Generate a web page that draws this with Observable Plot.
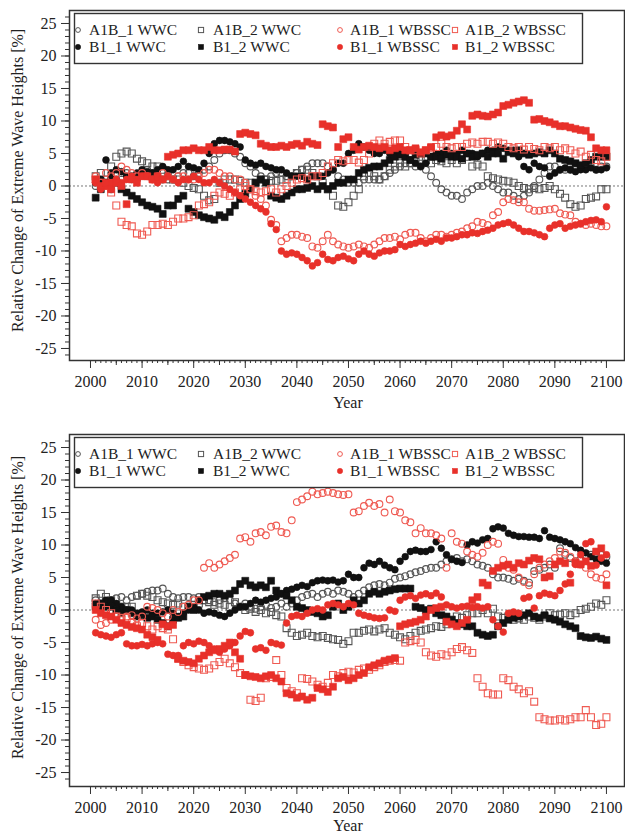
<!DOCTYPE html>
<html><head><meta charset="utf-8">
<script src="https://cdn.jsdelivr.net/npm/d3@7"></script>
<script src="https://cdn.jsdelivr.net/npm/@observablehq/plot@0.6"></script>
<style>
body{margin:0;background:#fff;font-family:"Liberation Serif",serif;}
#chart{width:625px;}
svg{display:block;}
</style></head><body><div id="chart"></div>
<script>
const years = d3.range(2001, 2101);
const xTicks = d3.range(2000, 2101, 10);
const yTicks = d3.range(-25, 26, 5);
const seriesNames = ["A1B_1 WWC","A1B_2 WWC","A1B_1 WBSSC","A1B_2 WBSSC","B1_1 WWC","B1_2 WWC","B1_1 WBSSC","B1_2 WBSSC"];
const yLabel = "Relative Change of Extreme Wave Heights [%]";
const xLabel = "Year";

// ---- top panel (2001..2100) ----
const topA1WWC = [0,1,0.5,-0.5,1,2,2,1.5,1,2, 2.5,2,1.5,1,1,1,1.5,2,2,1.5, 2,2.5,3,4,5,5.5,5.5,5,4.5,3.5, 3,2,1.5,1,1.5,2,2,1.5,1.5,2, 2.5,3,3.5,3.5,3.5,3,2.5,1.5,1,0.5, 0.5,0.5,1,1,1,1,1.5,2,2.5,3, 3.5,3.5,3,3,2.5,1.5,0.5,-0.5,-1,-1.5, -1.5,-2,-1,-0.5,0,0,0.5,0,-0.5,-1, -1,-1.5,-2,-1.5,-1,0,1,2,3,3, 2.5,2.5,2.5,2.5,3,3,3,2.5,3,3];
const topA2WWC = [1.5,2,1,3,4.5,5,5.3,5,4.2,3.8, 3.5,3,3,2.5,1.5,1,1,0.5,0,-0.3, -0.5,-1.5,-2.2,-2,0.5,1,1,1,0.8,0.5, 0.5,0.5,1,1,0.8,0.8,1,1,1.5,2, 2.5,2.5,2,1.5,0.5,-0.5,-1.5,-3,-3.2,-2.5, -1.5,-0.5,1.5,2,1.5,1,1.5,2.5,3,3.5, 3,3.5,4,4.5,4,3.5,4,3.8,3.5,4, 3.5,4,4.5,3,3.3,3,1.5,1.2,1,0.8, 0.7,0.5,0,-0.3,-0.5,-0.3,-0.5,-0.3,0,-0.5, -1.2,-1.8,-2.8,-3.2,-3,-2,-1.8,-1.6,-0.5,-0.5];
const topB1WWC = [0.5,1,4,2,2.5,2.2,1.5,1,2,2.5, 2.2,2,2.5,3,2.5,2.5,3,3.8,3,2.8, 2.5,3.5,5,6.5,7,7,6.8,6.5,6,4, 3.5,3.2,3.5,3,2.8,2.5,2.5,2,1.5,1.5, 1.5,1,1.5,1.5,1.5,2,2.5,3.5,3.5,5, 5.5,6.5,6,5.5,5,5,5.5,5,5,5.5, 5,4,3.5,3,3.5,4.5,5,5,5.5,5, 5,5.5,5,5,4.5,5,5.5,5.5,6,5.8, 5.5,5.5,4.5,3,2.5,3.5,3,2.8,1.5,2, 2.5,2.8,2.5,2.2,2.5,2.5,2.8,2.5,2.5,2.8];
const topB2WWC = [-1.8,-0.5,0.5,1,0.5,-0.5,-1,-1.5,-2,-2.5, -3,-3.2,-3.5,-4.3,-3,-3,-2,-1.5,-3.5,-4, -4.5,-4.8,-5,-5.2,-4.5,-4.8,-4,-3,-2,-1.2, -0.5,0.5,1,0.5,-1.5,-1.8,-2,-1.5,-1,-0.5, -0.5,-0.3,0,-0.5,0,-0.5,0,0.5,0.5,1, 1,2,2.5,2.8,3,3,3.5,4,4.5,4.8, 4.5,4,4.8,5,5,4.5,4.5,4.2,4.8,4.5, 4.5,4.2,5,4.5,4.8,5,4.5,5,5,4.2, 5.2,5,5.5,5,4.8,5,5.2,5,5.5,5, 4.2,4,3.8,3.5,3.2,3.5,4,4.5,4.5,4.5];
const topA1WB = [1.5,0.5,2,1.5,2,3,2.5,2,1.5,2, 1.5,1,1.5,2,1.5,1,1.5,1.5,1,1, 1.5,2,2.5,2.5,2,1.5,1.5,1,1,0.5, -0.5,-1.5,-2,-3,-5.2,-6,-8.5,-8,-7.5,-7.5, -7.8,-8,-9.3,-9.5,-8.5,-7.5,-8.5,-9,-9.3,-9.5, -9.3,-9,-9.3,-9.5,-9,-8.5,-8,-8,-7.8,-8.2, -7.5,-7.2,-7.2,-8,-8.5,-8,-7.5,-7.5,-7.8,-7.5, -7.2,-7,-6.5,-6.2,-5.5,-5.7,-6,-4.5,-4,-2.5, -2,-2.2,-2.5,-2.5,-3.5,-3.8,-3.8,-3.7,-3.6,-3.5, -4.2,-4.4,-4.5,-5.5,-5.8,-6,-5.8,-6,-6.2,-6.2];
const topA2WB = [1,0.5,0,-1,-3,-5.5,-6,-6.2,-7.3,-7.5, -7,-6,-6,-5.8,-6,-5.5,-5,-5,-4.8,-4.5, -3,-2.8,-2.5,-1.5,-1,-1.2,-1.5,-1,-0.5,0, -0.5,-0.8,-1,-0.8,-0.5,-1,-0.5,0,0.5,1, 1.2,1,1.5,1.5,2,3,3.5,4,3.8,4, 4,3.6,4,5,6.5,7,6.5,6.8,7,7, 6,5.5,5.5,5,5.5,5.8,6,6.5,6,5.8, 6,6,6.5,6.7,6.5,6.8,6.8,6.5,6.7,6.5, 6,5.8,6,5.6,6,5.7,5.5,6,5.8,6, 5.5,5.8,5.5,5,5.3,4.5,4.8,4,3.8,4.5];
const topB1WB = [0.5,-0.5,0,0.5,1,0.5,1,1.5,1,1.5, 1.5,1,0.5,1,1.5,1,0.5,1,1,1.5, 1,0.5,0.5,1,0.5,0,-0.5,-1,-1.5,-2, -2.5,-3,-3.5,-4,-5.8,-6.7,-10,-10.5,-10.3,-10.5, -11,-11.5,-12.3,-11.8,-10.5,-11.3,-11.5,-11,-10.8,-11.2, -11.5,-10.5,-10,-10.5,-10.8,-10.3,-10,-10,-9.8,-9, -9.3,-9,-8.8,-8.5,-8.8,-8.5,-8.2,-8.5,-8,-8, -7.8,-7.5,-7.5,-7.2,-7.3,-7,-6.8,-6.5,-6,-5.8, -5.6,-6,-6.5,-7,-7,-7.2,-7.5,-7.8,-6.5,-6, -5.8,-6.5,-6.2,-6,-5.8,-5.5,-5.3,-5.2,-5.5,-3.2];
const topB2WB = [1,0,0.5,-0.5,0.5,0,-2.8,1,0.5,1.5, 1.5,1,1.5,1,4.5,4.8,5,5.5,5.5,5.8, 5.5,5.5,6,5.5,5.5,5.6,5.6,5.3,8,8.2, 8,7.8,6.5,6.2,6,6,6.2,6,6.3,6.5, 6.2,6.8,6.5,6.3,9.5,9.2,9,6,7.2,7.5, 6,5.6,6,6.2,6,5.8,6,5.5,5.8,6, 5.5,5.5,5.8,5.2,5.5,6,7.5,7.8,7.6,7.8, 8.5,9.5,8.7,10.8,11,10.8,10.7,11,11.3,12.3, 12.5,12.8,13,13.2,12.8,10.2,10.3,10,9.8,9.5, 9.2,9.2,9,8.8,8.6,8.5,7.5,5.8,5.5,5.5];

// ---- bottom panel (2001..2100) ----
const botA1WWC = [1.5,1,1.2,1.5,1.8,2,1.5,2,2.2,2.5, 2.8,3,3,3.3,2.5,2,1.8,2,2,1.8, 2,1.5,1.5,1.2,1.5,1.8,1.5,1,0.5,1, 0.5,0.2,0.5,0.8,0.3,0.5,1,0.5,1,1.5, 2,2.3,2.5,2,2.5,2.8,2.5,3,2.8,2.5, 2,2.5,3,3.5,3.8,4,3.8,4.2,4.8,5, 5.2,5.5,5.8,6,6.3,6.5,6.5,7,7.5,7.8, 8,7.5,7.8,7.5,7,6.8,6.5,5.5,5,5, 4.8,4.5,4.8,4.5,4.2,6,6.2,6.5,7,6.5, 9.5,8.5,8,7.5,7.8,8.2,8.5,8.8,8.5,8.2];
const botA2WWC = [1.8,2.5,2,1.5,0.8,0.5,0.5,0.5,2.2,2.5, 2.2,2,1.5,1.2,1,0.8,1,0.5,0.5,0.8, 1,1.5,1.2,0.8,1,0.8,0.5,1.2,0.5,0, 0.2,-0.3,0,-0.5,-0.3,-0.8,-1,-2.8,-3.5,-4, -3.8,-3.5,-4,-4.2,-4,-4.3,-4.5,-4.6,-5.2,-4.8, -3.5,-3.5,-3.2,-3,-3.3,-3,-2.8,-3.5,-3.8,-4.2, -4.5,-4,-3.5,-3.2,-3,-2.8,-2.5,-2.6,-2.2,-1.5, -1,-1.2,-0.8,-0.5,-0.5,0,-0.5,0.2,-1,-1.2, -1,-1.5,-1.3,-1.5,-1,-1.2,-1.5,-1,-0.5,-0.8, -0.7,-0.5,-0.8,-0.5,0,0.2,0.5,1,0.8,1.5];
const botB1WWC = [1,0.5,1.5,1.5,1,0.5,0,0,-0.5,-0.3, 0,-0.5,-0.5,-0.3,0,-0.5,-1,-0.5,0,0.5, 0,-0.5,-0.3,-0.5,-0.8,-1,-0.5,0,0.5,0.5, 1,1.5,1.2,1.5,1.8,2,2.5,3,3.2,3.5, 3.8,3.6,4.2,4.5,4.6,4.5,4.6,4.3,4.5,5.5, 5,5,6.5,7.2,7,7.5,6.9,6.5,6.2,7.5, 8.2,9,9.2,9,9,9.3,10.5,9.5,8.5,7.8, 7.5,7.3,10,10.5,10.3,10.8,11,12.5,12.8,12.6, 11.8,11.5,11.3,11.3,11.2,11.2,11,12.2,11.2,11, 10.8,10.5,10.2,9.6,9.2,8.8,8.2,7.8,7.5,7.2];
const botB2WWC = [0.5,1,0.5,0.5,0,-0.5,0,-0.5,-1,-0.8, -1.2,-1,-1.5,-2,-2.5,-1.5,-1.2,-1,0.5,0, 1.5,2,2.2,2.5,2.5,2.2,2.5,3,4,4.5, 3.8,3.5,3.8,3.5,4.5,3,2.5,2.2,1.5,0.5, 0.3,0,-0.3,-0.5,-1,-0.8,0.5,1,0,0.5, 1.5,1,1.5,2.5,2.8,2.5,2.8,3,3.2,3.3, 3.3,3.3,0.5,0.3,0,0.2,-0.5,-0.8,-1,-1.5, -2,-2.2,-2.5,-2.5,-3.5,-3.8,-4,-3.8,-2.5,-2, -1.5,-1.2,-1,-0.8,-0.5,-1,-1.2,-0.8,-1.3,-1.5, -1.8,-2.2,-2.5,-2.8,-4,-4.2,-4.3,-4.1,-4.4,-4.6];
const botA1WB = [-1.5,-2.3,-2,-1.5,-1,-1.2,-1,-0.8,-1.3,-1, 0.5,0.3,0,-0.5,-1,0,-0.3,0.5,0.8,1.5, 1.5,6.5,7.2,6.5,7,7.5,8,8.5,11,11.2, 10.5,11.8,12,11.5,12.8,13,12,11.8,13.8,16.6, 17,17.5,18.2,17.8,18,18.2,18,17.8,17.7,17.8, 15,15.2,16,16.5,16,16.3,15,17,15.2,15, 13.8,13.5,11.8,12.6,11.8,11.8,11.5,11,6.5,11.8, 10.5,10.2,9,8.5,8.2,8.8,10,10.5,10.2,7.7, 6.5,6.2,5,4.3,3.8,5.5,6.5,7,7.5,8, 9,8.8,8.2,7.5,7,6.5,5.5,5,4.8,5.5];
const botA2WB = [1,0.5,0,-0.5,-1,-1.5,-1.2,-2,-2.5,-2, -2.5,-3,-2.5,-2.8,-3,-4.5,-7.5,-8,-8.5,-8.8, -9,-9.2,-9,-8.5,-8,-7.5,-8.2,-8.8,-9.7,-10, -13.8,-14,-13.5,-10.5,-10.3,-7.7,-10,-12,-12.5,-12.8, -10.5,-10.6,-11,-11.5,-11.8,-11.2,-10,-10.2,-9.7,-9.5, -9.6,-9.2,-9,-9.2,-8.8,-8.5,-8,-7.8,-7.7,-7.8, -5,-4.8,-4.6,-5,-6.5,-7,-7.2,-6.8,-7,-6.5, -6,-5.7,-6.2,-6.6,-10.5,-11.8,-12.8,-13,-13,-10.5, -10.8,-11.8,-12.2,-12.8,-12.5,-14.1,-16.5,-16.8,-17,-17, -16.8,-17,-16.8,-16.5,-16.5,-15.4,-16.5,-17.7,-17.5,-16.5];
const botB1WB = [-3.5,-3.8,-4,-4.2,-3.8,-3.5,-5.2,-5.5,-5.5,-5.3, -5.5,-5.2,-5,-5.2,-6.8,-7,-7,-5.5,-5,-5.2, -4.8,-5,-5.5,-6,-6.5,-6,-5.5,-5,-4,-3.3, -3.5,-6,-5.8,-6.2,-5,-5.2,-5.4,-2,-1,-0.8, -1,-0.5,0,0.2,0,0.8,1,0.8,0.5,1, 0.8,-0.5,-0.8,-1,-1.2,-1.3,-1.2,0,-0.2,1.5, 2,2.2,1.8,2.3,2.5,2.2,2.6,2,0.8,0.5, 0.3,0.5,0.6,0.4,0.5,0.3,0.5,-1.5,-2.5,-3.4, -0.5,-0.3,-0.5,1.8,2,0.3,2.2,2.6,2.4,2.2, 3,4,5.5,7,8.5,10.2,10.5,6.9,8,8.5];
const botB2WB = [0,-0.5,-0.8,-1,-1.5,-2,-2.3,-2.6,-2.8,-3, -3.8,-4.2,-4.6,-2.2,-2.5,-2.3,-7.5,-7.8,-8,-8.2, -7.5,-7,-6.5,-6.2,-6,-5.5,-5,-6.5,-7.5,-10, -10.2,-10.3,-10.5,-10.2,-10,-10.5,-11,-12.8,-13,-13.5, -13.3,-13.8,-13.5,-12,-12.2,-12.6,-11.8,-10.5,-10.3,-10.8, -10.5,-10,-9.7,-8.8,-8.5,-8.2,-7.8,-7.6,-7.4,-2.5, -2.2,-2,-1.8,-1.5,-1,0,0.3,0.5,-1.8,-2.2, -2.5,-2,-1.5,1.5,2,4.2,3.8,6,6.5,6.8, 7,6.5,7.2,7,7.6,8,7.8,5,5.2,7, 7.5,7.2,4.2,7.3,7,7.5,6.8,9,9.5,3.8];

const topSeries = {"A1B_1 WWC":topA1WWC,"A1B_2 WWC":topA2WWC,"B1_1 WWC":topB1WWC,"B1_2 WWC":topB2WWC,
  "A1B_1 WBSSC":topA1WB,"A1B_2 WBSSC":topA2WB,"B1_1 WBSSC":topB1WB,"B1_2 WBSSC":topB2WB};
const botSeries = {"A1B_1 WWC":botA1WWC,"A1B_2 WWC":botA2WWC,"B1_1 WWC":botB1WWC,"B1_2 WWC":botB2WWC,
  "A1B_1 WBSSC":botA1WB,"A1B_2 WBSSC":botA2WB,"B1_1 WBSSC":botB1WB,"B1_2 WBSSC":botB2WB};

const BLACK = "#111", GREY = "#555", RED = "#e8302a", LRED = "#ef5a52";
const styleOf = {
  "A1B_1 WWC":  {symbol:"circle", open:true,  color:GREY},
  "A1B_2 WWC":  {symbol:"square", open:true,  color:GREY},
  "A1B_1 WBSSC":{symbol:"circle", open:true,  color:LRED},
  "A1B_2 WBSSC":{symbol:"square", open:true,  color:LRED},
  "B1_1 WWC":   {symbol:"circle", open:false, color:BLACK},
  "B1_2 WWC":   {symbol:"square", open:false, color:BLACK},
  "B1_1 WBSSC": {symbol:"circle", open:false, color:RED},
  "B1_2 WBSSC": {symbol:"square", open:false, color:RED}
};
const drawOrder = ["A1B_1 WWC","A1B_2 WWC","B1_1 WWC","B1_2 WWC","A1B_1 WBSSC","A1B_2 WBSSC","B1_1 WBSSC","B1_2 WBSSC"];
const FONT = "Liberation Serif";

function panel(seriesMap, height, marginBottom, yDomain, yLabelShift, xLabelOffset) {
  const rows = [];
  drawOrder.forEach(name => seriesMap[name].forEach((v, i) => rows.push({series: name, year: years[i], value: v})));
  const dotMarks = drawOrder.map(name => {
    const s = styleOf[name];
    return Plot.dot(rows.filter(d => d.series === name), {
      x: "year", y: "value", symbol: s.symbol,
      r: s.symbol === "square" ? 3.9 : 3.4,
      fill: s.open ? "none" : s.color, stroke: s.color, strokeWidth: s.open ? 1.1 : 0.6
    });
  });
  const plot = Plot.plot({
    width: 625, height, marginLeft: 69, marginRight: 1, marginTop: 10, marginBottom,
    style: {fontFamily: FONT, fontSize: "16px", color: "#222", background: "#fff"},
    x: {domain: [1995.93, 2103.5]},
    y: {domain: yDomain},
    marks: [
      Plot.ruleY([0], {stroke: "#777", strokeDasharray: "2,2", strokeWidth: 1}),
      ...dotMarks,
      Plot.frame({stroke: "#333", strokeWidth: 1.5}),
      Plot.axisX(d3.range(2000, 2101, 1), {tickSize: 3, tickFormat: () => "", label: null, stroke: "#333"}),
      Plot.axisX(d3.range(2005, 2101, 10), {tickSize: 5, tickFormat: () => "", label: null, stroke: "#333"}),
      Plot.axisX(xTicks, {tickSize: 8, tickPadding: 7, tickFormat: d => String(d), label: null, stroke: "#333", fontSize: 16}),
      Plot.axisY(d3.range(-26, 27, 1), {tickSize: 4, tickFormat: () => "", label: null, stroke: "#333"}),
      Plot.axisY(yTicks, {tickSize: 8, tickPadding: 5, tickFormat: d => String(d), label: null, stroke: "#333", fontSize: 16})
    ]
  });
  const svg = d3.select(plot);
  const xs = plot.scale("x"), ys = plot.scale("y");
  const frameBottom = height - marginBottom;
  // axis titles
  svg.append("text").attr("x", (xs.apply(2000) + xs.apply(2100)) / 2).attr("y", frameBottom + xLabelOffset)
    .attr("text-anchor", "middle").attr("font-family", FONT).attr("font-size", 16).attr("fill", "#222").text(xLabel);
  const cy = (ys.apply(25) + ys.apply(-25)) / 2 + yLabelShift;
  svg.append("text").attr("transform", `translate(17,${cy}) rotate(-90)`)
    .attr("text-anchor", "middle").attr("dominant-baseline", "central")
    .attr("font-family", FONT).attr("font-size", 16).attr("fill", "#222").text(yLabel);
  // legend
  const lg = svg.append("g").attr("text-anchor", "start");
  lg.append("rect").attr("x", 74.5).attr("y", 13.5).attr("width", 508).attr("height", 50)
    .attr("fill", "#fff").attr("stroke", "#333").attr("stroke-width", 1.4);
  const colMarker = [78, 201, 340, 455], colText = [89, 213, 350, 465];
  const rowY = [30, 47];
  seriesNames.forEach((name, i) => {
    const c = i % 4, r = Math.floor(i / 4), s = styleOf[name];
    const mx = colMarker[c], my = rowY[r];
    if (s.symbol === "circle") {
      lg.append("circle").attr("cx", mx).attr("cy", my).attr("r", s.open ? 2.4 : 2.7)
        .attr("fill", s.open ? "none" : s.color).attr("stroke", s.color).attr("stroke-width", s.open ? 1 : 0.5);
    } else {
      lg.append("rect").attr("x", mx - 2.6).attr("y", my - 2.6).attr("width", 5.2).attr("height", 5.2)
        .attr("fill", s.open ? "none" : s.color).attr("stroke", s.color).attr("stroke-width", s.open ? 1 : 0.5);
    }
    lg.append("text").attr("x", colText[c]).attr("y", my).attr("dy", "0.35em").attr("text-anchor", "start")
      .attr("font-family", FONT).attr("font-size", 15.5).attr("fill", "#222").text(name);
  });
  return plot;
}

const root = document.getElementById("chart");
root.appendChild(panel(topSeries, 424, 64, [-26.85, 27], -5, 48));
root.appendChild(panel(botSeries, 411, 49, [-27.15, 27], -2, 45));
</script></body></html>
